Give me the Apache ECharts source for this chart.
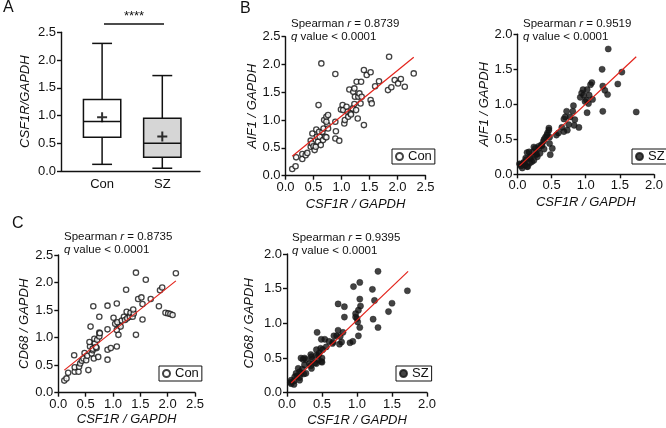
<!DOCTYPE html>
<html><head><meta charset="utf-8">
<script src="https://cdn.jsdelivr.net/npm/echarts@6/dist/echarts.min.js"></script>
<style>html,body{margin:0;padding:0;background:#fff}#c{width:666px;height:428px}</style>
</head><body><div id="c"></div>
<script>
// ---------- Data ----------
const boxCategories = ['Con', 'SZ'];
// [min, Q1, median, Q3, max]
const boxCon = [0.12, 0.61, 0.89, 1.29, 2.30];
const boxSZ = [0.05, 0.25, 0.50, 0.95, 1.72];
const meanCon = 0.97;
const meanSZ = 0.62;

const conAIF1 = [[0.12,0.12],[0.18,0.17],[0.19,0.33],[0.30,0.39],[0.30,0.30],[0.36,0.37],[0.39,0.41],[0.45,0.52],[0.45,0.63],[0.48,0.76],[0.47,0.58],[0.50,0.53],[0.52,0.46],[0.54,0.52],[0.55,0.83],[0.56,0.70],[0.58,0.61],[0.60,0.79],[0.61,0.70],[0.59,1.27],[0.63,0.55],[0.64,2.02],[0.66,0.79],[0.67,0.64],[0.68,0.85],[0.69,1.00],[0.71,0.70],[0.73,1.06],[0.75,0.91],[0.73,0.69],[0.76,1.09],[0.76,0.85],[0.73,0.97],[0.89,1.83],[0.89,0.97],[0.90,0.80],[0.89,0.67],[0.96,0.63],[0.99,1.19],[1.02,1.27],[1.03,1.18],[1.05,0.94],[1.06,1.00],[1.09,1.24],[1.11,1.15],[1.12,1.06],[1.14,1.55],[1.16,1.12],[1.17,1.10],[1.20,1.21],[1.21,1.51],[1.23,1.57],[1.24,1.42],[1.23,1.29],[1.26,1.18],[1.27,1.69],[1.29,1.03],[1.30,1.42],[1.32,1.48],[1.34,1.30],[1.35,1.69],[1.36,1.42],[1.40,1.90],[1.40,0.91],[1.45,1.81],[1.52,1.86],[1.52,1.36],[1.54,1.30],[1.60,1.61],[1.67,1.70],[1.83,1.54],[1.85,2.14],[1.89,1.59],[1.95,1.72],[2.01,1.66],[2.06,1.74],[2.13,1.60],[2.29,1.84]];
const conAIF1Fit = [[0.12,0.35],[2.29,2.13]];

const szAIF1 = [[1.33,1.79],[1.24,1.50],[1.53,1.46],[1.47,1.29],[1.25,1.26],[1.28,1.20],[1.32,1.14],[1.25,0.90],[1.74,0.89],[1.09,1.31],[1.07,1.28],[1.02,1.21],[1.05,1.13],[1.10,1.07],[1.01,1.06],[1.04,1.01],[1.02,0.88],[0.96,1.21],[0.94,1.16],[0.92,1.10],[0.97,1.13],[0.99,1.04],[0.82,0.98],[0.81,0.90],[0.72,0.90],[0.77,0.82],[0.70,0.82],[0.68,0.79],[0.84,0.78],[0.83,0.70],[0.90,0.67],[0.75,0.71],[0.73,0.63],[0.65,0.67],[0.68,0.61],[0.60,0.59],[0.57,0.56],[0.46,0.66],[0.44,0.59],[0.47,0.53],[0.41,0.53],[0.46,0.63],[0.43,0.56],[0.38,0.47],[0.39,0.50],[0.47,0.44],[0.48,0.28],[0.51,0.37],[0.35,0.42],[0.36,0.41],[0.31,0.40],[0.31,0.37],[0.26,0.37],[0.24,0.39],[0.23,0.32],[0.28,0.29],[0.27,0.28],[0.14,0.31],[0.17,0.32],[0.19,0.25],[0.19,0.23],[0.12,0.23],[0.13,0.21],[0.09,0.17],[0.09,0.16],[0.03,0.15],[0.04,0.14],[0.07,0.09],[0.15,0.11],[0.14,0.11],[0.18,0.16],[0.24,0.20],[0.29,0.25],[0.39,0.36],[0.11,0.13],[0.21,0.18],[0.05,0.12],[0.33,0.30]];
const szAIF1Fit = [[0.03,0.12],[1.74,1.68]];

const conCD68 = [[0.11,0.22],[0.15,0.26],[0.18,0.36],[0.29,0.68],[0.30,0.38],[0.30,0.46],[0.37,0.38],[0.38,0.47],[0.40,0.53],[0.43,0.58],[0.46,0.62],[0.48,0.72],[0.51,0.59],[0.53,0.67],[0.55,0.41],[0.58,0.84],[0.57,0.92],[0.59,1.20],[0.61,0.71],[0.63,0.77],[0.63,0.80],[0.64,1.57],[0.65,0.62],[0.67,0.90],[0.66,0.98],[0.70,0.81],[0.69,0.83],[0.71,0.96],[0.75,1.02],[0.75,1.09],[0.75,1.38],[0.76,1.08],[0.73,0.65],[0.90,1.58],[0.90,1.15],[0.90,0.78],[0.90,0.60],[0.96,0.81],[1.07,0.84],[1.01,1.36],[1.04,1.25],[1.07,1.62],[1.07,1.14],[1.10,1.05],[1.12,1.23],[1.14,1.20],[1.08,1.28],[1.16,1.31],[1.20,1.38],[1.22,1.32],[1.24,1.87],[1.25,1.47],[1.26,1.35],[1.31,1.38],[1.32,1.45],[1.36,1.38],[1.38,1.44],[1.37,1.51],[1.42,2.18],[1.42,1.05],[1.46,1.70],[1.52,1.73],[1.54,1.61],[1.54,1.33],[1.60,2.05],[1.69,1.70],[1.84,1.57],[1.86,1.86],[1.90,1.91],[1.96,1.45],[2.01,1.44],[2.05,1.43],[2.09,1.41],[2.15,2.17]];
const conCD68Fit = [[0.11,0.41],[2.15,2.03]];

const szCD68 = [[1.30,1.75],[1.72,1.47],[1.50,1.29],[1.45,1.17],[1.30,0.94],[1.23,1.06],[1.25,1.33],[1.22,1.49],[1.04,1.59],[0.95,1.53],[1.04,1.35],[1.05,1.25],[1.02,1.19],[0.98,1.14],[1.00,1.07],[0.98,1.09],[1.04,0.94],[1.01,1.02],[1.02,0.82],[0.94,0.74],[0.90,0.72],[0.82,1.09],[0.82,1.24],[0.73,1.28],[0.73,0.90],[0.80,0.87],[0.76,0.81],[0.75,0.70],[0.78,0.73],[0.67,0.82],[0.71,0.82],[0.60,0.74],[0.66,0.73],[0.54,0.77],[0.49,0.77],[0.43,0.87],[0.48,0.64],[0.51,0.62],[0.56,0.66],[0.65,0.71],[0.46,0.57],[0.45,0.54],[0.49,0.45],[0.45,0.47],[0.50,0.50],[0.50,0.44],[0.42,0.42],[0.40,0.43],[0.35,0.52],[0.34,0.55],[0.32,0.42],[0.36,0.48],[0.35,0.35],[0.34,0.39],[0.25,0.40],[0.20,0.50],[0.25,0.50],[0.27,0.48],[0.23,0.48],[0.16,0.35],[0.22,0.34],[0.20,0.28],[0.24,0.27],[0.13,0.28],[0.18,0.30],[0.18,0.18],[0.18,0.22],[0.14,0.24],[0.06,0.18],[0.06,0.13],[0.10,0.17],[0.10,0.12],[0.05,0.15],[0.11,0.23],[0.27,0.28],[0.42,0.62],[0.42,0.54]];
const szCD68Fit = [[0.06,0.14],[1.73,1.75]];

const statsText = [
  {r: '0.8739', q: '< 0.0001'},
  {r: '0.9519', q: '< 0.0001'},
  {r: '0.8735', q: '< 0.0001'},
  {r: '0.9395', q: '< 0.0001'}
];

// ---------- Styling ----------
const FONT = 'Liberation Sans, Arial, sans-serif';
const INK = '#111';
const lineS = {color: INK, width: 1.4};
function valAxis(gi, min, max, extra) {
  return Object.assign({
    type: 'value', gridIndex: gi, min: min, max: max, interval: 0.5,
    axisLine: {show: true, lineStyle: lineS},
    axisTick: {show: true, length: 4, lineStyle: lineS},
    splitLine: {show: false},
    axisLabel: {color: INK, fontSize: 13, fontFamily: FONT, margin: 5, formatter: v => v.toFixed(1)},
    nameLocation: 'middle',
    nameTextStyle: {color: INK, fontSize: 13, fontFamily: FONT, fontStyle: 'italic'}
  }, extra || {});
}
function statTitle(s, left, top) {
  return {
    text: 'Spearman {i|r} = ' + s.r + '\n{i|q} value ' + s.q,
    left: left, top: top, padding: 0, itemGap: 0,
    textStyle: {fontSize: 11.5, fontWeight: 'normal', color: INK, fontFamily: FONT, lineHeight: 13.5,
      rich: {i: {fontStyle: 'italic', fontSize: 11.5, fontFamily: FONT, color: INK}}}
  };
}
function scatterSeries(name, data, gi, filled) {
  return {
    type: 'scatter', name: name, data: data, xAxisIndex: gi, yAxisIndex: gi,
    symbol: 'circle', symbolSize: filled ? 6.2 : 5.3,
    itemStyle: filled ? {color: '#141414', borderColor: '#141414', borderWidth: 0.5}
                      : {color: '#fff', borderColor: '#141414', borderWidth: 1.3},
    z: 3
  };
}
function fitSeries(data, gi) {
  return {type: 'line', name: 'fit' + gi, data: data, xAxisIndex: gi, yAxisIndex: gi,
    symbol: 'none', lineStyle: {color: '#e3231b', width: 1.2}, z: 4, silent: true};
}
function legendBox(name, left, top) {
  return {data: [name], left: left, top: top, orient: 'horizontal', selectedMode: false,
    borderColor: INK, borderWidth: 1, padding: [1, 3, 1, 3], itemWidth: 7, itemHeight: 7,
    icon: 'circle', textStyle: {color: INK, fontSize: 13, fontFamily: FONT}};
}

function renderBox(params, api) {
  const i = api.value(0);
  const band = api.size([1, 0])[0];
  const bw = band * 0.62, cw = band * 0.33;
  const p = k => api.coord([i, api.value(k)]);
  const x = p(3)[0];
  const yMin = p(1)[1], yQ1 = p(2)[1], yMed = p(3)[1], yQ3 = p(4)[1], yMax = p(5)[1];
  const st = {stroke: INK, lineWidth: 1.5, fill: null};
  const fills = ['#ffffff', '#d6d6d6'];
  return {type: 'group', children: [
    {type: 'line', shape: {x1: x, y1: yQ3, x2: x, y2: yMax}, style: st},
    {type: 'line', shape: {x1: x - cw / 2, y1: yMax, x2: x + cw / 2, y2: yMax}, style: st},
    {type: 'line', shape: {x1: x, y1: yQ1, x2: x, y2: yMin}, style: st},
    {type: 'line', shape: {x1: x - cw / 2, y1: yMin, x2: x + cw / 2, y2: yMin}, style: st},
    {type: 'rect', shape: {x: x - bw / 2, y: yQ3, width: bw, height: yQ1 - yQ3},
      style: {stroke: INK, lineWidth: 1.5, fill: fills[i]}},
    {type: 'line', shape: {x1: x - bw / 2, y1: yMed, x2: x + bw / 2, y2: yMed}, style: st}
  ]};
}

const chart = echarts.init(document.getElementById('c'), null, {renderer: 'canvas'});
const option = {
  animation: false,
  backgroundColor: '#fff',
  textStyle: {fontFamily: FONT},
  title: [
    {text: 'A', left: 3, top: 0, padding: 0, textStyle: {fontSize: 16, fontWeight: 'normal', color: INK, fontFamily: FONT}},
    {text: 'B', left: 240, top: 1, padding: 0, textStyle: {fontSize: 16, fontWeight: 'normal', color: INK, fontFamily: FONT}},
    {text: 'C', left: 12, top: 216, padding: 0, textStyle: {fontSize: 16, fontWeight: 'normal', color: INK, fontFamily: FONT}},
    statTitle(statsText[0], 291, 17),
    statTitle(statsText[1], 523, 17),
    statTitle(statsText[2], 64, 230),
    statTitle(statsText[3], 292, 231)
  ],
  legend: [legendBox('Con', 392, 149), legendBox('SZ', 632, 149), legendBox('Con', 159, 366), legendBox('SZ', 396, 366)],
  grid: [
    {left: 61, top: 32.3, width: 139, height: 138.7},
    {left: 72, top: 32.3, width: 120.4, height: 138.7},
    {left: 285.5, top: 36.7, width: 140, height: 139},
    {left: 517.5, top: 34.3, width: 137, height: 140},
    {left: 58.3, top: 255, width: 136.7, height: 137.7},
    {left: 287, top: 254, width: 140, height: 138.7}
  ],
  xAxis: [
    {type: 'value', gridIndex: 0, min: 0, max: 1, axisLine: {show: true, lineStyle: lineS}, axisTick: {show: false}, axisLabel: {show: false}, splitLine: {show: false}},
    {type: 'category', gridIndex: 1, data: boxCategories, axisLine: {show: false}, axisTick: {show: false},
      axisLabel: {color: INK, fontSize: 13, fontFamily: FONT, margin: 7}},
    valAxis(2, 0, 2.5, {name: 'CSF1R / GAPDH', nameGap: 22}),
    valAxis(3, 0, 2.0, {name: 'CSF1R / GAPDH', nameGap: 22}),
    valAxis(4, 0, 2.5, {name: 'CSF1R / GAPDH', nameGap: 20}),
    valAxis(5, 0, 2.0, {name: 'CSF1R / GAPDH', nameGap: 21})
  ],
  yAxis: [
    valAxis(0, 0, 2.5, {name: 'CSF1R/GAPDH', nameGap: 29}),
    {type: 'value', gridIndex: 1, min: 0, max: 2.5, show: false},
    valAxis(2, 0, 2.5, {name: 'AIF1 / GAPDH', nameGap: 21}),
    valAxis(3, 0, 2.0, {name: 'AIF1 / GAPDH', nameGap: 24}),
    valAxis(4, 0, 2.5, {name: 'CD68 / GAPDH', nameGap: 25}),
    valAxis(5, 0, 2.0, {name: 'CD68 / GAPDH', nameGap: 31})
  ],
  graphic: [
    {type: 'line', shape: {x1: 104, y1: 24, x2: 164, y2: 24}, style: {stroke: INK, lineWidth: 1.3}},
    {type: 'text', x: 134, y: 16, style: {text: '****', fontSize: 13, fontFamily: FONT, fill: INK, align: 'center', verticalAlign: 'middle'}}
  ],
  series: [
    {type: 'custom', name: 'box', xAxisIndex: 1, yAxisIndex: 1, renderItem: renderBox,
      encode: {x: 0, y: [1, 2, 3, 4, 5]},
      data: [[0].concat(boxCon), [1].concat(boxSZ)]},
    {type: 'scatter', name: 'mean', xAxisIndex: 1, yAxisIndex: 1, z: 5,
      symbol: 'path://M4,0h2v4h4v2h-4v4h-2v-4h-4v-2h4z', symbolSize: 10,
      itemStyle: {color: '#000'}, data: [[boxCategories[0], meanCon], [boxCategories[1], meanSZ]]},
    scatterSeries('Con', conAIF1, 2, false), fitSeries(conAIF1Fit, 2),
    scatterSeries('SZ', szAIF1, 3, true), fitSeries(szAIF1Fit, 3),
    scatterSeries('Con', conCD68, 4, false), fitSeries(conCD68Fit, 4),
    scatterSeries('SZ', szCD68, 5, true), fitSeries(szCD68Fit, 5)
  ]
};
chart.setOption(option);
</script>
</body></html>
